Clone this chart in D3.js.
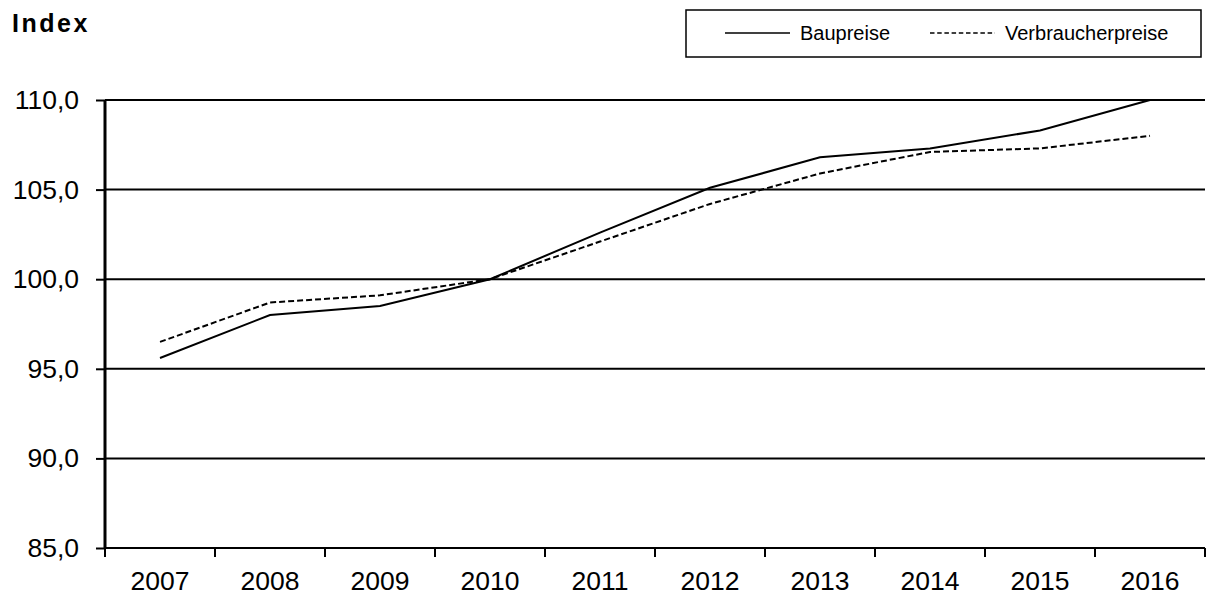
<!DOCTYPE html>
<html><head><meta charset="utf-8">
<script src="https://cdn.jsdelivr.net/npm/d3@7"></script>
<style>body{margin:0;background:#fff}svg{display:block}text{font-family:Arial,"Liberation Sans",sans-serif;fill:#000}</style>
</head><body>
<svg id="c" width="1207" height="596"></svg>
<script>
const years = ["2007","2008","2009","2010","2011","2012","2013","2014","2015","2016"];
const baupreise = [95.6, 98.0, 98.5, 100.0, 102.6, 105.1, 106.8, 107.3, 108.3, 110.0];
const verbraucherpreise = [96.5, 98.7, 99.1, 100.0, 102.1, 104.2, 105.9, 107.1, 107.3, 108.0];
const yTicks = [85, 90, 95, 100, 105, 110];
const seriesNames = ["Baupreise", "Verbraucherpreise"];

const svg = d3.select("#c");
const L = 105, R = 1205, T = 100, B = 548;
const x = d3.scaleBand().domain(years).range([L, R]);
const y = d3.scaleLinear().domain([85, 110]).range([B, T]);
const fmt = v => d3.format(".1f")(v).replace(".", ",");
const FF = "Arial, 'Liberation Sans', sans-serif";

// gridlines + y ticks
const yAxis = d3.axisLeft(y).tickValues(yTicks).tickFormat(fmt).tickSize(9).tickPadding(17);
const gy = svg.append("g").attr("transform", `translate(${L},0)`).call(yAxis);
gy.select(".domain").remove();
gy.selectAll(".tick line").attr("stroke", "#000").attr("stroke-width", 2);
gy.selectAll(".tick text").style("font-size", "26.5px").style("font-family", FF);
svg.append("g").selectAll("line").data(yTicks).join("line")
  .attr("x1", L).attr("x2", R).attr("y1", d => y(d)).attr("y2", d => y(d))
  .attr("stroke", "#000").attr("stroke-width", 2);

// x axis
const xAxis = d3.axisBottom(x).tickSize(0).tickPadding(0);
const gx = svg.append("g").attr("transform", `translate(0,${B})`).call(xAxis);
gx.select(".domain").remove();
gx.selectAll(".tick text").attr("y", 42).attr("dy", 0).style("font-size", "26.5px").style("font-family", FF);
const bounds = years.map(d => x(d)).concat([R]);
svg.append("g").selectAll("line").data(bounds).join("line")
  .attr("x1", d => d).attr("x2", d => d).attr("y1", B).attr("y2", B + 9)
  .attr("stroke", "#000").attr("stroke-width", 2);

// y axis line
svg.append("line").attr("x1", L).attr("x2", L).attr("y1", T).attr("y2", B + 1)
  .attr("stroke", "#000").attr("stroke-width", 3);

// lines
const line = d3.line().x((d, i) => x(years[i]) + x.bandwidth() / 2).y(d => y(d));
svg.append("path").datum(baupreise).attr("d", line).attr("fill", "none").attr("stroke", "#000").attr("stroke-width", 2);
svg.append("path").datum(verbraucherpreise).attr("d", line).attr("fill", "none").attr("stroke", "#000").attr("stroke-width", 2).attr("stroke-dasharray", "6,3");

// title
svg.append("text").attr("x", 12).attr("y", 32).style("font-size", "25px").style("font-weight", "bold").style("letter-spacing", "2.5px").text("Index");

// legend
svg.append("rect").attr("x", 686).attr("y", 10).attr("width", 515).attr("height", 47).attr("fill", "#fff").attr("stroke", "#000").attr("stroke-width", 1.5);
const leg = [{x1: 725, x2: 790, tx: 800, dash: null}, {x1: 930, x2: 995, tx: 1005, dash: "4.5,2.7"}];
leg.forEach((l, i) => {
  svg.append("line").attr("x1", l.x1).attr("x2", l.x2).attr("y1", 33).attr("y2", 33).attr("stroke", "#000").attr("stroke-width", 1.5).attr("stroke-dasharray", l.dash);
  svg.append("text").attr("x", l.tx).attr("y", 40).style("font-size", "20px").text(seriesNames[i]);
});
</script>
</body></html>
